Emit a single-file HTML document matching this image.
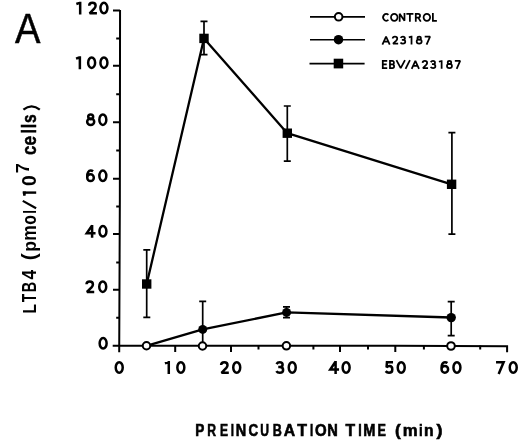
<!DOCTYPE html>
<html><head><meta charset="utf-8"><style>
html,body{margin:0;padding:0;background:#fff;width:520px;height:442px;overflow:hidden}
svg{display:block;will-change:transform;filter:blur(0.35px)}
text{font-family:"Liberation Sans",sans-serif}
.gl path{vector-effect:non-scaling-stroke}
</style></head><body>
<svg width="520" height="442" viewBox="0 0 520 442">
<rect width="520" height="442" fill="#fff"/>
<!-- Axes -->
<g stroke="#000" stroke-width="2" fill="none" stroke-linecap="butt" stroke-linejoin="miter">
<path d="M120.05 10.1L119.85 200L119.2 352.2"/>
<path d="M112.7 345.8L395 345.85L507.1 346.2V352.2"/>
<path d="M113 10.6H120.05M113 65.8H119.99M113 122.2H119.93M113 178.7H119.87M113 234.1H119.70M113 289.7H119.47"/>
<path d="M116.2 38.4H120.02M116.2 94.2H119.96M116.2 150.4H119.90M116.2 206.4H119.82M116.2 262.4H119.58M116.2 317.8H119.35"/>
<path d="M175.2 345.31V352M231.0 345.32V352M340.0 345.34V352M395.3 345.35V352"/>
<path d="M258.5 345.33V349.5M313.4 345.34V349.5M368.0 345.35V349.5M423.9 345.44V349.5M480.2 345.62V349.5"/>
</g>
<!-- Legend -->
<g stroke="#000" stroke-width="1.7" fill="none">
<path d="M310 16.8H365M310 39.75H365M309.5 63.6H364.6"/>
</g>
<circle cx="338.65" cy="16.8" r="3.8" fill="#fff" stroke="#000" stroke-width="2"/>
<circle cx="338.5" cy="39.7" r="4.75" fill="#000"/>
<rect x="333.7" y="58.7" width="9.5" height="9.7" fill="#000"/>
<!-- EBV/A23187 series -->
<g stroke="#000" stroke-width="2.3" fill="none" stroke-linejoin="round">
<polyline points="146.7,284 204,38.4 287.3,133.2 451.6,184.3"/>
</g>
<g stroke="#000" stroke-width="1.7" fill="none">
<path d="M146.7 249.8V317.4M143.3 249.8H150.3M143.3 317.4H150.3"/>
<path d="M204 21.3V54.7M200.5 21.3H207.5M200.5 54.7H207.5"/>
<path d="M287.3 106V161.2M283.8 106H290.8M283.8 161.2H290.8"/>
<path d="M451.9 132.7V234.2M448.4 132.7H455.4M448.4 234.2H455.4"/>
</g>
<g fill="#000">
<rect x="142" y="279.3" width="9.4" height="9.4"/>
<rect x="199.3" y="33.7" width="9.4" height="9.4"/>
<rect x="282.6" y="128.5" width="9.4" height="9.4"/>
<rect x="446.9" y="179.6" width="9.4" height="9.4"/>
</g>
<!-- A23187 series -->
<g stroke="#000" stroke-width="2.3" fill="none" stroke-linejoin="round">
<polyline points="146.3,345.8 202.7,329.4 286.6,312.4 451.2,317.5"/>
</g>
<g stroke="#000" stroke-width="1.7" fill="none">
<path d="M202.7 301.4V345M199.2 301.4H206.2"/>
<path d="M286.5 306.9V317.6M283 306.9H290M283 317.6H290"/>
<path d="M451.2 301.7V335.6M447.7 301.7H454.7M447.7 335.6H454.7"/>
</g>
<g fill="#000">
<circle cx="202.7" cy="329.4" r="4.5"/>
<circle cx="286.6" cy="312.4" r="4.5"/>
<circle cx="451.2" cy="317.6" r="4.7"/>
</g>
<!-- CONTROL series -->
<g fill="#fff" stroke="#000" stroke-width="2">
<circle cx="146.5" cy="345.75" r="3.75"/>
<circle cx="202.5" cy="346" r="3.75"/>
<circle cx="286.4" cy="345.85" r="3.75"/>
<circle cx="451" cy="346" r="3.8"/>
</g>

<g fill="#000">
<text x="14.95" y="42.65" font-size="42.17" stroke="#000" stroke-width="0.5" textLength="25.47" lengthAdjust="spacingAndGlyphs" xml:space="preserve">A</text>
<text transform="translate(195.18,436.23) scale(0.820,1)" font-size="16.62" font-weight="bold" stroke="#000" stroke-width="0.6">P</text>
<text transform="translate(207.27,436.23) scale(0.733,1)" font-size="16.62" font-weight="bold" stroke="#000" stroke-width="0.6">R</text>
<text transform="translate(219.97,436.23) scale(0.728,1)" font-size="16.62" font-weight="bold" stroke="#000" stroke-width="0.6">E</text>
<text transform="translate(230.70,436.23) scale(0.700,1)" font-size="16.62" font-weight="bold" stroke="#000" stroke-width="0.6">I</text>
<text transform="translate(235.73,436.23) scale(0.872,1)" font-size="16.62" font-weight="bold" stroke="#000" stroke-width="0.6">N</text>
<text transform="translate(248.46,436.23) scale(0.805,1)" font-size="16.62" font-weight="bold" stroke="#000" stroke-width="0.6">C</text>
<text transform="translate(260.37,436.23) scale(0.730,1)" font-size="16.62" font-weight="bold" stroke="#000" stroke-width="0.6">U</text>
<text transform="translate(272.75,436.23) scale(0.757,1)" font-size="16.62" font-weight="bold" stroke="#000" stroke-width="0.6">B</text>
<text transform="translate(283.63,436.23) scale(0.948,1)" font-size="16.62" font-weight="bold" stroke="#000" stroke-width="0.6">A</text>
<text transform="translate(297.24,436.23) scale(0.959,1)" font-size="16.62" font-weight="bold" stroke="#000" stroke-width="0.6">T</text>
<text transform="translate(309.90,436.23) scale(0.700,1)" font-size="16.62" font-weight="bold" stroke="#000" stroke-width="0.6">I</text>
<text transform="translate(315.10,436.23) scale(0.903,1)" font-size="16.62" font-weight="bold" stroke="#000" stroke-width="0.6">O</text>
<text transform="translate(327.32,436.23) scale(0.882,1)" font-size="16.62" font-weight="bold" stroke="#000" stroke-width="0.6">N</text>
<text transform="translate(345.44,436.23) scale(0.948,1)" font-size="16.62" font-weight="bold" stroke="#000" stroke-width="0.6">T</text>
<text transform="translate(358.15,436.23) scale(0.752,1)" font-size="16.62" font-weight="bold" stroke="#000" stroke-width="0.6">I</text>
<text transform="translate(363.22,436.23) scale(0.881,1)" font-size="16.62" font-weight="bold" stroke="#000" stroke-width="0.6">M</text>
<text transform="translate(377.54,436.23) scale(0.760,1)" font-size="16.62" font-weight="bold" stroke="#000" stroke-width="0.6">E</text>
<text transform="translate(395.04,436.23) scale(1.031,1)" font-size="16.62" font-weight="bold" stroke="#000" stroke-width="0.6">(</text>
<text transform="translate(402.69,436.23) scale(1.008,1)" font-size="16.62" font-weight="bold" stroke="#000" stroke-width="0.6">m</text>
<text transform="translate(419.00,436.23) scale(0.802,1)" font-size="16.62" font-weight="bold" stroke="#000" stroke-width="0.6">i</text>
<text transform="translate(424.06,436.23) scale(0.946,1)" font-size="16.62" font-weight="bold" stroke="#000" stroke-width="0.6">n</text>
<text transform="translate(436.40,436.23) scale(1.079,1)" font-size="16.62" font-weight="bold" stroke="#000" stroke-width="0.6">)</text>
<text transform="rotate(-90) translate(-313.43,36.30) scale(0.808,1)" font-size="19.29" font-weight="bold">L</text>
<text transform="rotate(-90) translate(-302.34,36.30) scale(0.712,1)" font-size="19.29" font-weight="bold">T</text>
<text transform="rotate(-90) translate(-292.36,36.30) scale(0.744,1)" font-size="19.29" font-weight="bold">B</text>
<text transform="rotate(-90) translate(-279.57,36.30) scale(0.896,1)" font-size="19.29" font-weight="bold">4</text>
<text transform="rotate(-90) translate(-260.24,36.30) scale(1.074,1)" font-size="19.29" font-weight="bold">(</text>
<text transform="rotate(-90) translate(-251.86,36.30) scale(0.915,1)" font-size="19.29" font-weight="bold">p</text>
<text transform="rotate(-90) translate(-240.85,36.30) scale(0.909,1)" font-size="19.29" font-weight="bold">m</text>
<text transform="rotate(-90) translate(-224.83,36.30) scale(0.822,1)" font-size="19.29" font-weight="bold">o</text>
<text transform="rotate(-90) translate(-213.81,36.30) scale(0.700,1)" font-size="19.29" font-weight="bold">l</text>
<text transform="rotate(-90) translate(-186.07,36.30) scale(0.994,1)" font-size="19.29" font-weight="bold">0</text>
<text transform="rotate(-90) translate(-173.32,29.20) scale(0.943,1)" font-size="19.00" font-weight="bold">7</text>
<text transform="rotate(-90) translate(-154.97,36.20) scale(0.866,1)" font-size="19.32" font-weight="bold" stroke="#000" stroke-width="0.5">c</text>
<text transform="rotate(-90) translate(-145.48,36.20) scale(0.884,1)" font-size="19.32" font-weight="bold" stroke="#000" stroke-width="0.5">e</text>
<text transform="rotate(-90) translate(-133.56,36.20) scale(0.828,1)" font-size="19.32" font-weight="bold" stroke="#000" stroke-width="0.5">l</text>
<text transform="rotate(-90) translate(-128.16,36.20) scale(0.828,1)" font-size="19.32" font-weight="bold" stroke="#000" stroke-width="0.5">l</text>
<text transform="rotate(-90) translate(-123.03,36.20) scale(0.809,1)" font-size="19.32" font-weight="bold" stroke="#000" stroke-width="0.5">s</text>
</g>
<g class="gl" fill="none" stroke="#000" stroke-width="2.5" stroke-linejoin="miter" stroke-miterlimit="2.2">
<path transform="translate(76.338,1.638) scale(1.0096,1.0096)" d="M0 2.3L3.2 1.2M3.8 0V12.8"/>
<path transform="translate(87.938,1.638) scale(1.0096,1.0096)" d="M1.25 4C1.3 2.3 2.7 1.2 4.4 1.2C6.2 1.2 7.6 2.4 7.6 4.1C7.6 5.3 7 6.1 6.2 7L1.7 11.6H8.9"/>
<path transform="translate(99.238,1.638) scale(1.0096,1.0096)" d="M4.65 1.2A3.45 5.2 0 1 1 4.65 11.6A3.45 5.2 0 1 1 4.65 1.2Z"/>
<path transform="translate(76.038,56.238) scale(1.0096,1.0096)" d="M0 2.3L3.2 1.2M3.8 0V12.8"/>
<path transform="translate(86.938,56.238) scale(1.0096,1.0096)" d="M4.65 1.2A3.45 5.2 0 1 1 4.65 11.6A3.45 5.2 0 1 1 4.65 1.2Z"/>
<path transform="translate(99.238,56.238) scale(1.0096,1.0096)" d="M4.65 1.2A3.45 5.2 0 1 1 4.65 11.6A3.45 5.2 0 1 1 4.65 1.2Z"/>
<path transform="translate(85.938,113.238) scale(1.0096,1.0096)" d="M4.7 1.2A2.45 2.35 0 1 1 4.7 5.9A2.45 2.35 0 1 1 4.7 1.2ZM4.7 5.3A3.5 3.15 0 1 1 4.7 11.6A3.5 3.15 0 1 1 4.7 5.3Z"/>
<path transform="translate(98.138,113.238) scale(1.0096,1.0096)" d="M4.65 1.2A3.45 5.2 0 1 1 4.65 11.6A3.45 5.2 0 1 1 4.65 1.2Z"/>
<path transform="translate(86.038,169.388) scale(1.0096,1.0096)" d="M7 1.9C6.3 1.4 5.4 1.2 4.6 1.2C2.5 1.2 1.2 3.4 1.2 6.6V8.2M1.2 8.2A3.25 3.4 0 1 0 7.7 8.2A3.25 3.4 0 1 0 1.2 8.2Z"/>
<path transform="translate(98.138,169.388) scale(1.0096,1.0096)" d="M4.65 1.2A3.45 5.2 0 1 1 4.65 11.6A3.45 5.2 0 1 1 4.65 1.2Z"/>
<path transform="translate(85.238,224.888) scale(1.0096,1.0096)" d="M6.8 0.5L1.5 8.4H10.2M6.8 0V12.8"/>
<path transform="translate(98.238,224.888) scale(1.0096,1.0096)" d="M4.65 1.2A3.45 5.2 0 1 1 4.65 11.6A3.45 5.2 0 1 1 4.65 1.2Z"/>
<path transform="translate(85.238,280.238) scale(1.0096,1.0096)" d="M1.25 4C1.3 2.3 2.7 1.2 4.4 1.2C6.2 1.2 7.6 2.4 7.6 4.1C7.6 5.3 7 6.1 6.2 7L1.7 11.6H8.9"/>
<path transform="translate(98.038,280.238) scale(1.0096,1.0096)" d="M4.65 1.2A3.45 5.2 0 1 1 4.65 11.6A3.45 5.2 0 1 1 4.65 1.2Z"/>
<path transform="translate(98.438,336.838) scale(1.0096,1.0096)" d="M4.65 1.2A3.45 5.2 0 1 1 4.65 11.6A3.45 5.2 0 1 1 4.65 1.2Z"/>
<path transform="translate(114.538,361.038) scale(1.0096,1.0096)" d="M4.65 1.2A3.45 5.2 0 1 1 4.65 11.6A3.45 5.2 0 1 1 4.65 1.2Z"/>
<path transform="translate(164.938,361.038) scale(1.0096,1.0096)" d="M0 2.3L3.2 1.2M3.8 0V12.8"/>
<path transform="translate(176.138,361.038) scale(1.0096,1.0096)" d="M4.65 1.2A3.45 5.2 0 1 1 4.65 11.6A3.45 5.2 0 1 1 4.65 1.2Z"/>
<path transform="translate(219.838,361.038) scale(1.0096,1.0096)" d="M1.25 4C1.3 2.3 2.7 1.2 4.4 1.2C6.2 1.2 7.6 2.4 7.6 4.1C7.6 5.3 7 6.1 6.2 7L1.7 11.6H8.9"/>
<path transform="translate(232.038,361.038) scale(1.0096,1.0096)" d="M4.65 1.2A3.45 5.2 0 1 1 4.65 11.6A3.45 5.2 0 1 1 4.65 1.2Z"/>
<path transform="translate(275.238,361.038) scale(1.0096,1.0096)" d="M1.3 3C1.9 1.9 3 1.2 4.4 1.2C6.2 1.2 7.3 2.3 7.3 3.7C7.3 5 6.2 6 4.6 6H3M4.6 6C6.6 6 7.8 7.3 7.8 8.8C7.8 10.5 6.4 11.6 4.5 11.6C2.9 11.6 1.7 10.9 1.1 9.9"/>
<path transform="translate(287.538,361.038) scale(1.0096,1.0096)" d="M4.65 1.2A3.45 5.2 0 1 1 4.65 11.6A3.45 5.2 0 1 1 4.65 1.2Z"/>
<path transform="translate(328.738,361.038) scale(1.0096,1.0096)" d="M6.8 0.5L1.5 8.4H10.2M6.8 0V12.8"/>
<path transform="translate(341.438,361.038) scale(1.0096,1.0096)" d="M4.65 1.2A3.45 5.2 0 1 1 4.65 11.6A3.45 5.2 0 1 1 4.65 1.2Z"/>
<path transform="translate(384.638,361.038) scale(1.0096,1.0096)" d="M8.3 1.2H2.3L1.9 6.3C2.8 5.4 3.8 5 4.8 5C6.7 5 7.6 6.6 7.6 8.3C7.6 10.3 6.2 11.6 4.3 11.6C2.9 11.6 1.7 10.9 1 10"/>
<path transform="translate(396.538,361.038) scale(1.0096,1.0096)" d="M4.65 1.2A3.45 5.2 0 1 1 4.65 11.6A3.45 5.2 0 1 1 4.65 1.2Z"/>
<path transform="translate(440.338,361.038) scale(1.0096,1.0096)" d="M7 1.9C6.3 1.4 5.4 1.2 4.6 1.2C2.5 1.2 1.2 3.4 1.2 6.6V8.2M1.2 8.2A3.25 3.4 0 1 0 7.7 8.2A3.25 3.4 0 1 0 1.2 8.2Z"/>
<path transform="translate(452.238,361.038) scale(1.0096,1.0096)" d="M4.65 1.2A3.45 5.2 0 1 1 4.65 11.6A3.45 5.2 0 1 1 4.65 1.2Z"/>
<path transform="translate(496.038,361.038) scale(1.0096,1.0096)" d="M0 1.2H7.5L2.6 12.8"/>
<path transform="translate(508.538,361.038) scale(1.0096,1.0096)" d="M4.65 1.2A3.45 5.2 0 1 1 4.65 11.6A3.45 5.2 0 1 1 4.65 1.2Z"/>
</g>
<g class="gl" fill="none" stroke="#000" stroke-width="1.75" stroke-linejoin="miter" stroke-miterlimit="1.5">
<path transform="translate(382.362,12.962) scale(0.6779,0.6779)" d="M8.88 2.72A4.5 5.2 0 1 0 8.88 10.08"/>
<path transform="translate(390.162,12.962) scale(0.6779,0.6779)" d="M6.05 1.2A4.85 5.2 0 1 1 6.05 11.6A4.85 5.2 0 1 1 6.05 1.2Z"/>
<path transform="translate(398.862,12.962) scale(0.6779,0.6779)" d="M1.2 12.8V1.2L8.3 11.6V0"/>
<path transform="translate(406.362,12.962) scale(0.6779,0.6779)" d="M0 1.2H10.4M5.2 1.2V12.8"/>
<path transform="translate(414.962,12.962) scale(0.6779,0.6779)" d="M1.2 12.8V1.2H4.6C6.4 1.2 7.5 2.4 7.5 4C7.5 5.6 6.4 6.8 4.6 6.8H1.2M4.8 6.8L8.6 12.8"/>
<path transform="translate(422.762,12.962) scale(0.6779,0.6779)" d="M6.05 1.2A4.85 5.2 0 1 1 6.05 11.6A4.85 5.2 0 1 1 6.05 1.2Z"/>
<path transform="translate(432.062,12.962) scale(0.6779,0.6779)" d="M1.2 0V11.6H7.1"/>
<path transform="translate(382.062,35.862) scale(0.6779,0.6779)" d="M0.5 12.8L5.9 1.2L11.3 12.8M3 8.4H8.8"/>
<path transform="translate(391.821,35.862) scale(0.7118,0.6779)" d="M1.25 4C1.3 2.3 2.7 1.2 4.4 1.2C6.2 1.2 7.6 2.4 7.6 4.1C7.6 5.3 7 6.1 6.2 7L1.7 11.6H8.9"/>
<path transform="translate(399.721,35.862) scale(0.7118,0.6779)" d="M1.3 3C1.9 1.9 3 1.2 4.4 1.2C6.2 1.2 7.3 2.3 7.3 3.7C7.3 5 6.2 6 4.6 6H3M4.6 6C6.6 6 7.8 7.3 7.8 8.8C7.8 10.5 6.4 11.6 4.5 11.6C2.9 11.6 1.7 10.9 1.1 9.9"/>
<path transform="translate(408.821,35.862) scale(0.7118,0.6779)" d="M0 2.3L3.2 1.2M3.8 0V12.8"/>
<path transform="translate(415.821,35.862) scale(0.7118,0.6779)" d="M4.7 1.2A2.45 2.35 0 1 1 4.7 5.9A2.45 2.35 0 1 1 4.7 1.2ZM4.7 5.3A3.5 3.15 0 1 1 4.7 11.6A3.5 3.15 0 1 1 4.7 5.3Z"/>
<path transform="translate(424.721,35.862) scale(0.7118,0.6779)" d="M0 1.2H7.5L2.6 12.8"/>
<path transform="translate(381.962,60.162) scale(0.6779,0.6779)" d="M7.75 1.2H1.2V11.6H7.75M1.2 6.3H7"/>
<path transform="translate(389.162,60.162) scale(0.6779,0.6779)" d="M1.2 6.3H4.6M4.6 1.2H1.2V11.6H4.9C6.6 11.6 7.3 10.4 7.3 8.8C7.3 7.3 6.4 6.3 4.6 6.3C6.2 6.3 7 5.2 7 3.7C7 2.2 6 1.2 4.6 1.2"/>
<path transform="translate(396.162,60.162) scale(0.6779,0.6779)" d="M0.4 0L6.7 11.8L13 0"/>
<path transform="translate(404.862,60.162) scale(0.6779,0.6779)" d="M1 12.8L7.5 0"/>
<path transform="translate(411.362,60.162) scale(0.6779,0.6779)" d="M0.5 12.8L5.9 1.2L11.3 12.8M3 8.4H8.8"/>
<path transform="translate(421.721,60.162) scale(0.7118,0.6779)" d="M1.25 4C1.3 2.3 2.7 1.2 4.4 1.2C6.2 1.2 7.6 2.4 7.6 4.1C7.6 5.3 7 6.1 6.2 7L1.7 11.6H8.9"/>
<path transform="translate(429.821,60.162) scale(0.7118,0.6779)" d="M1.3 3C1.9 1.9 3 1.2 4.4 1.2C6.2 1.2 7.3 2.3 7.3 3.7C7.3 5 6.2 6 4.6 6H3M4.6 6C6.6 6 7.8 7.3 7.8 8.8C7.8 10.5 6.4 11.6 4.5 11.6C2.9 11.6 1.7 10.9 1.1 9.9"/>
<path transform="translate(438.921,60.162) scale(0.7118,0.6779)" d="M0 2.3L3.2 1.2M3.8 0V12.8"/>
<path transform="translate(446.121,60.162) scale(0.7118,0.6779)" d="M4.7 1.2A2.45 2.35 0 1 1 4.7 5.9A2.45 2.35 0 1 1 4.7 1.2ZM4.7 5.3A3.5 3.15 0 1 1 4.7 11.6A3.5 3.15 0 1 1 4.7 5.3Z"/>
<path transform="translate(454.821,60.162) scale(0.7118,0.6779)" d="M0 1.2H7.5L2.6 12.8"/>
</g>
<g fill="none" stroke="#000" stroke-linecap="butt"><path d="M36.1 208.3L22.8 200.9" stroke-width="2.2"/><path d="M22.8 192.6H36.2" stroke-width="2.4"/><path d="M23.4 109.7Q31.6 103.0 39.8 109.7" stroke-width="2.2"/></g><path d="M22.8 191.5H26L25.6 195.7H23.1Z" fill="#000"/>

</svg>
</body></html>
